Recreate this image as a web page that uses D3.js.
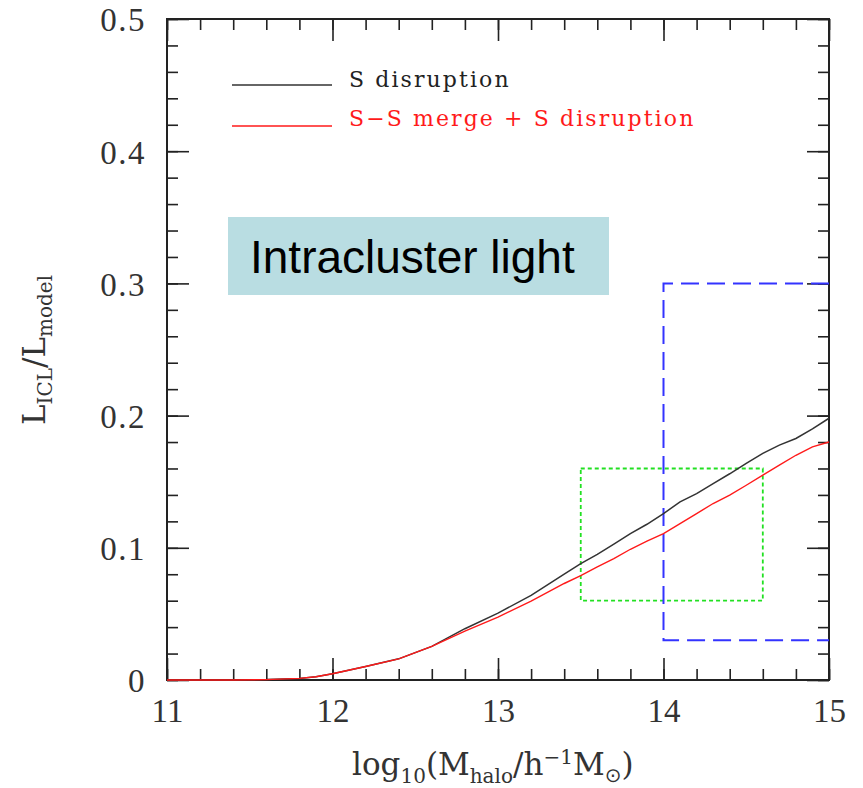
<!DOCTYPE html>
<html>
<head>
<meta charset="utf-8">
<script src="https://cdn.jsdelivr.net/npm/d3@7"></script>
<style>
  body { margin: 0; background: #fff; }
  svg { display: block; }
</style>
</head>
<body>
<div id="chart"></div>
<script>
// Data
const logM = [11.0, 11.2, 11.4, 11.6, 11.8, 11.9, 12.0, 12.2, 12.4, 12.6, 12.8, 13.0, 13.2, 13.4, 13.5,
  13.6, 13.7, 13.8, 13.9, 14.0, 14.1, 14.2, 14.3, 14.4, 14.5, 14.6, 14.7, 14.8, 14.9, 15.0];
const sDisruption = [0, 0, 0, 0.0003, 0.0012, 0.0025, 0.0047, 0.0102, 0.016, 0.0254, 0.0388, 0.0506, 0.064, 0.080, 0.088,
  0.095, 0.1027, 0.1107, 0.1178, 0.1259, 0.1347, 0.141, 0.1486, 0.156, 0.1638, 0.1714, 0.1777, 0.1827, 0.190, 0.198];
const ssMerge = [0, 0, 0, 0.0003, 0.0012, 0.0025, 0.0047, 0.0102, 0.016, 0.0254, 0.037, 0.0476, 0.0597, 0.073, 0.079,
  0.0855, 0.0918, 0.0989, 0.105, 0.1107, 0.1183, 0.1259, 0.1335, 0.1398, 0.1473, 0.155, 0.1625, 0.170, 0.1764, 0.180];

const xTicks = [11, 12, 13, 14, 15];
const yTicks = [0, 0.1, 0.2, 0.3, 0.4, 0.5];
const legendLabels = ['S disruption', 'S\u2212S merge + S disruption'];
const legendColors = ['#333', '#ff1a1a'];

// highlighted regions (x range, y range)
const greenBox = [13.5, 14.6, 0.06, 0.16];
const blueBox = [14, 15, 0.03, 0.3];

const W = 863, H = 788;
const margin = { left: 167, top: 19, right: 34, bottom: 108 };
const width = W - margin.left - margin.right;
const height = H - margin.top - margin.bottom;

const svg = d3.select('#chart').append('svg')
  .attr('width', W)
  .attr('height', H);

const g = svg.append('g')
  .attr('transform', `translate(${margin.left},${margin.top})`);

const x = d3.scaleLinear().domain([11, 15]).range([0, width]);
const y = d3.scaleLinear().domain([0, 0.5]).range([height, 0]);

const serif = '"Liberation Serif", "DejaVu Serif", serif';
const wideSerif = '"DejaVu Serif", serif';
const yFmt = d => d === 0 ? '0' : d3.format('.1f')(d);

function styleAxis(sel) {
  sel.select('.domain').remove();
  sel.selectAll('.tick line').attr('stroke', '#222').attr('stroke-width', 1.6);
  sel.selectAll('text')
    .attr('font-family', serif)
    .attr('font-size', 33)
    .attr('fill', '#333');
}

// Minor ticks on all four sides
g.append('g').attr('transform', `translate(0,${height})`)
  .call(d3.axisBottom(x).tickValues(x.ticks(20)).tickSize(-11).tickFormat(''))
  .call(styleAxis);
g.append('g')
  .call(d3.axisTop(x).tickValues(x.ticks(20)).tickSize(-11).tickFormat(''))
  .call(styleAxis);
g.append('g')
  .call(d3.axisLeft(y).tickValues(y.ticks(25)).tickSize(-11).tickFormat(''))
  .call(styleAxis);
g.append('g').attr('transform', `translate(${width},0)`)
  .call(d3.axisRight(y).tickValues(y.ticks(25)).tickSize(-11).tickFormat(''))
  .call(styleAxis);

// Major ticks + labels
g.append('g').attr('transform', `translate(0,${height})`)
  .call(d3.axisBottom(x).tickValues(xTicks).tickSize(-22).tickPadding(19).tickFormat(d3.format('d')))
  .call(styleAxis);
g.append('g')
  .call(d3.axisTop(x).tickValues(xTicks).tickSize(-22).tickFormat(''))
  .call(styleAxis);
g.append('g')
  .call(d3.axisLeft(y).tickValues(yTicks).tickSize(-22).tickPadding(21).tickFormat(yFmt))
  .call(styleAxis)
  .selectAll('text').attr('dy', '0.36em').attr('letter-spacing', 1.5);
g.append('g').attr('transform', `translate(${width},0)`)
  .call(d3.axisRight(y).tickValues(yTicks).tickSize(-22).tickFormat(''))
  .call(styleAxis);

// Frame
g.append('rect')
  .attr('width', width).attr('height', height)
  .attr('fill', 'none').attr('stroke', '#222').attr('stroke-width', 2);

// Highlight boxes
g.append('rect')
  .attr('x', x(greenBox[0])).attr('y', y(greenBox[3]))
  .attr('width', x(greenBox[1]) - x(greenBox[0]))
  .attr('height', y(greenBox[2]) - y(greenBox[3]))
  .attr('fill', 'none').attr('stroke', '#22e022').attr('stroke-width', 1.8)
  .attr('stroke-dasharray', '4,3');

g.append('path')
  .attr('d', d3.line()([
    [x(blueBox[1]), y(blueBox[3])], [x(blueBox[0]), y(blueBox[3])],
    [x(blueBox[0]), y(blueBox[2])], [x(blueBox[1]), y(blueBox[2])]
  ]))
  .attr('fill', 'none').attr('stroke', '#3333ff').attr('stroke-width', 2)
  .attr('stroke-dasharray', '18,8');

// Curves
const line = d3.line().x((d, i) => x(logM[i])).y(d => y(d));
g.append('path').datum(sDisruption)
  .attr('d', line).attr('fill', 'none')
  .attr('stroke', legendColors[0]).attr('stroke-width', 1.5);
g.append('path').datum(ssMerge)
  .attr('d', line).attr('fill', 'none')
  .attr('stroke', legendColors[1]).attr('stroke-width', 1.4);

// Legend
const legend = svg.append('g');
legendLabels.forEach((lab, i) => {
  const ly = 85 + i * 41;
  legend.append('line')
    .attr('x1', 232).attr('x2', 332).attr('y1', ly).attr('y2', ly)
    .attr('stroke', legendColors[i]).attr('stroke-width', 1.6);
  legend.append('text')
    .attr('x', 349).attr('y', ly + 2 - i * 2)
    .attr('font-family', wideSerif)
    .attr('font-size', 22)
    .attr('letter-spacing', 2.1)
    .attr('fill', i === 0 ? '#222' : legendColors[i])
    .text(lab);
});

// Annotation box
svg.append('rect')
  .attr('x', 228).attr('y', 217).attr('width', 381).attr('height', 78)
  .attr('fill', '#b9dde2');
svg.append('text')
  .attr('x', 250).attr('y', 273)
  .attr('font-family', '"Liberation Sans", Arial, sans-serif')
  .attr('font-size', 46)
  .attr('fill', '#000')
  .text('Intracluster light');

// X axis title
const xt = svg.append('text')
  .attr('x', 352).attr('y', 775)
  .attr('font-family', wideSerif).attr('font-size', 31).attr('fill', '#333');
xt.append('tspan').text('log');
xt.append('tspan').attr('font-size', 20).attr('dy', 8).text('10');
xt.append('tspan').attr('dy', -8).text('(M');
xt.append('tspan').attr('font-size', 20).attr('dy', 8).text('halo');
xt.append('tspan').attr('dy', -8).text('/h');
xt.append('tspan').attr('font-size', 20).attr('dy', -11).text('\u22121');
xt.append('tspan').attr('dy', 11).text('M');
xt.append('tspan').attr('font-size', 20).attr('dy', 7).attr('font-family', '"DejaVu Sans", sans-serif').text('\u2299');
xt.append('tspan').attr('dy', -7).text(')');

// Y axis title
const yt = svg.append('text')
  .attr('transform', 'translate(45,350) rotate(-90)')
  .attr('text-anchor', 'middle')
  .attr('font-family', wideSerif).attr('font-size', 31).attr('fill', '#333');
yt.append('tspan').text('L');
yt.append('tspan').attr('font-size', 20).attr('dy', 7).text('ICL');
yt.append('tspan').attr('dy', -7).text('/L');
yt.append('tspan').attr('font-size', 20).attr('dy', 7).text('model');
</script>
</body>
</html>
